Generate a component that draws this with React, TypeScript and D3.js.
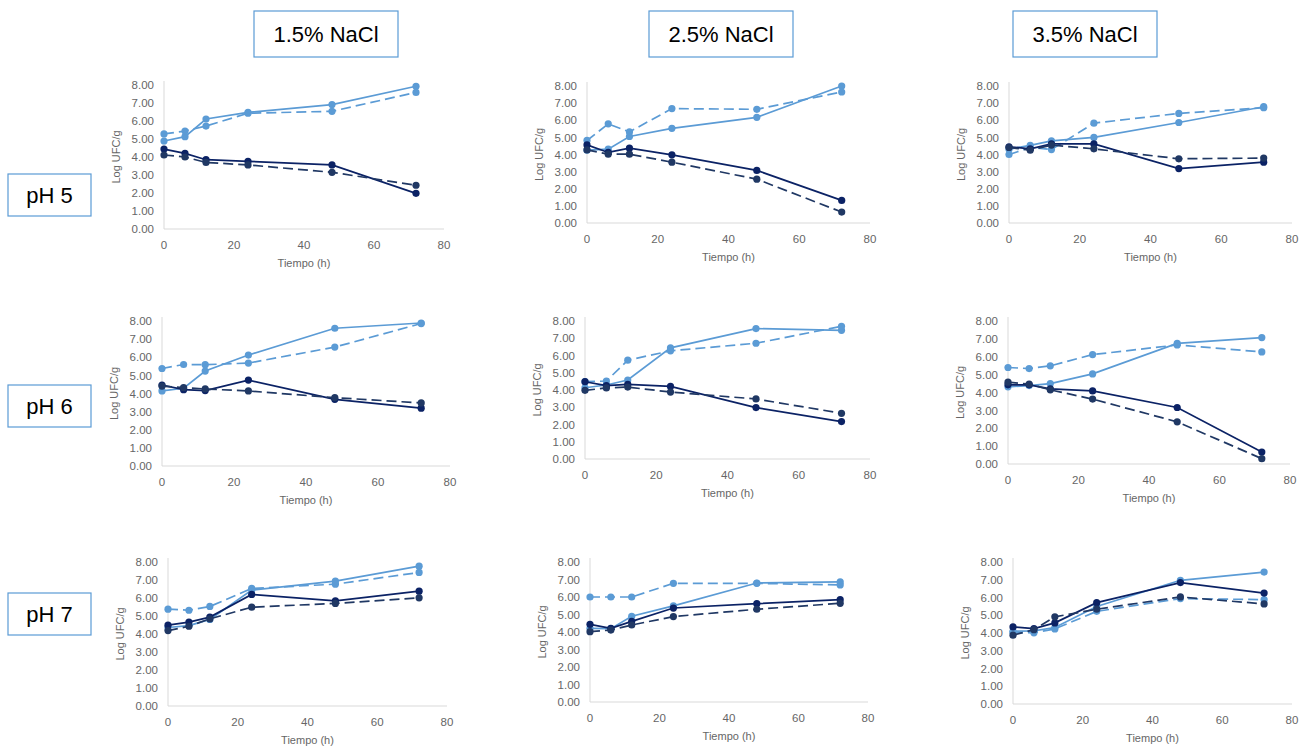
import React from 'react';
import * as d3 from 'd3';

// sampling times (h)
const times = [0, 6, 12, 24, 48, 72];
const nacl = ['1.5% NaCl', '2.5% NaCl', '3.5% NaCl'];
const phs = ['pH 5', 'pH 6', 'pH 7'];
const xTicks = [0, 20, 40, 60, 80];
const yTicks = [0, 1, 2, 3, 4, 5, 6, 7, 8];

// series per panel, row by row: light solid, light dashed, dark solid, dark dashed
const lightSolid = [
  [4.89, 5.13, 6.11, 6.48, 6.91, 7.93],
  [4.25, 4.31, 5.05, 5.53, 6.17, 8.0],
  [4.31, 4.53, 4.8, 5.0, 5.87, 6.79],
  [4.14, 4.29, 5.24, 6.12, 7.6, 7.89],
  [4.13, 4.29, 4.58, 6.44, 7.56, 7.46],
  [4.32, 4.39, 4.5, 5.04, 6.75, 7.07],
  [4.36, 4.47, 4.81, 6.44, 6.94, 7.77],
  [4.21, 4.19, 4.9, 5.49, 6.8, 6.86],
  [4.1, 4.12, 4.31, 5.49, 6.97, 7.43],
];
const lightDashed = [
  [5.28, 5.44, 5.72, 6.43, 6.54, 7.59],
  [4.82, 5.79, 5.32, 6.68, 6.64, 7.65],
  [4.0, 4.41, 4.29, 5.83, 6.4, 6.73],
  [5.38, 5.6, 5.59, 5.68, 6.56, 7.86],
  [4.48, 4.52, 5.73, 6.27, 6.71, 7.69],
  [5.4, 5.34, 5.49, 6.12, 6.66, 6.27],
  [5.38, 5.32, 5.53, 6.53, 6.77, 7.42],
  [6.0, 6.0, 6.0, 6.78, 6.78, 6.69],
  [4.03, 4.01, 4.23, 5.22, 5.94, 5.88],
];
const darkSolid = [
  [4.44, 4.2, 3.85, 3.76, 3.56, 1.98],
  [4.56, 4.12, 4.37, 3.98, 3.07, 1.32],
  [4.45, 4.33, 4.62, 4.62, 3.18, 3.55],
  [4.47, 4.21, 4.16, 4.74, 3.68, 3.19],
  [4.48, 4.25, 4.33, 4.21, 2.98, 2.17],
  [4.43, 4.43, 4.2, 4.09, 3.16, 0.67],
  [4.49, 4.66, 4.94, 6.2, 5.84, 6.38],
  [4.44, 4.21, 4.61, 5.37, 5.62, 5.85],
  [4.34, 4.25, 4.57, 5.71, 6.84, 6.25],
];
const darkDashed = [
  [4.11, 4.0, 3.7, 3.56, 3.15, 2.43],
  [4.27, 4.02, 4.02, 3.55, 2.56, 0.64],
  [4.41, 4.25, 4.55, 4.33, 3.75, 3.79],
  [4.41, 4.32, 4.25, 4.14, 3.77, 3.48],
  [3.98, 4.12, 4.17, 3.88, 3.48, 2.65],
  [4.58, 4.47, 4.15, 3.63, 2.36, 0.3],
  [4.19, 4.43, 4.84, 5.49, 5.7, 6.01],
  [4.02, 4.11, 4.4, 4.88, 5.3, 5.64],
  [3.88, 4.19, 4.91, 5.34, 6.03, 5.64],
];

// plot area of each panel in page pixels
const panels = [
  { l: 164, r: 444, t: 85, b: 229 },
  { l: 587, r: 870, t: 86, b: 223 },
  { l: 1009, r: 1292, t: 86, b: 223 },
  { l: 162, r: 450, t: 321, b: 466 },
  { l: 585, r: 870, t: 321, b: 459 },
  { l: 1008, r: 1290, t: 321, b: 464 },
  { l: 168, r: 447, t: 562, b: 706 },
  { l: 590, r: 868, t: 562, b: 702 },
  { l: 1013, r: 1292, t: 562, b: 704 },
];
const naclBoxes = [254, 649, 1013];
const phBoxesY = [174, 385, 593];

const LIGHT = '#5B9BD5';
const DARK = '#0B2265';
const DARK_DASH = '#203864';
const GRID = '#D9D9D9';
const TXT = '#666666';
const FONT = '"Liberation Sans", Arial, sans-serif';

const Panel = ({ i }: { i: number }) => {
  const p = panels[i];
  const x = d3.scaleLinear().domain([0, 80]).range([p.l, p.r]);
  const y = d3.scaleLinear().domain([0, 8]).range([p.b, p.t]);
  const line = d3.line<number>().x((_, k) => x(times[k])).y(d => y(d));
  const series = [
    { vals: lightSolid[i], color: LIGHT, dash: undefined },
    { vals: lightDashed[i], color: LIGHT, dash: '10,5' },
    { vals: darkSolid[i], color: DARK, dash: undefined },
    { vals: darkDashed[i], color: DARK_DASH, dash: '10,5' },
  ];
  return (
    <g>
      <line x1={p.l} x2={p.l} y1={p.t - 4} y2={p.b} stroke={GRID} strokeWidth={1} />
      <line x1={p.l} x2={p.r} y1={p.b} y2={p.b} stroke={GRID} strokeWidth={1} />
      {yTicks.map(t => (
        <text key={'y' + t} x={p.l - 10} y={y(t)} dy="0.36em" textAnchor="end" fontSize={11.5} fill={TXT} fontFamily={FONT}>
          {t.toFixed(2)}
        </text>
      ))}
      {xTicks.map(t => (
        <text key={'x' + t} x={x(t)} y={p.b + 20} textAnchor="middle" fontSize={11.5} fill={TXT} fontFamily={FONT}>
          {t}
        </text>
      ))}
      <text x={(p.l + p.r) / 2} y={p.b + 38} textAnchor="middle" fontSize={11} fill={TXT} fontFamily={FONT}>
        Tiempo (h)
      </text>
      <text transform={`translate(${p.l - 44},${(p.t + p.b) / 2}) rotate(-90)`} textAnchor="middle" fontSize={11} fill={TXT} fontFamily={FONT}>
        Log UFC/g
      </text>
      {series.map((s, k) => (
        <g key={k}>
          <path d={line(s.vals) || ''} fill="none" stroke={s.color} strokeWidth={1.7} strokeDasharray={s.dash} />
          {s.vals.map((v, j) => (
            <circle key={j} cx={x(times[j])} cy={y(v)} r={3.6} fill={s.color} />
          ))}
        </g>
      ))}
    </g>
  );
};

const App = () => (
  <svg width={1313} height={749} style={{ position: 'absolute', left: 0, top: 0, background: '#fff' }}>
    <rect width={1313} height={749} fill="#fff" />
    {nacl.map((n, c) => (
      <g key={n}>
        <rect x={naclBoxes[c]} y={11} width={144} height={46} fill="#fff" stroke={LIGHT} strokeWidth={1.2} />
        <text x={naclBoxes[c] + 72} y={42} textAnchor="middle" fontSize={22} fontFamily={FONT} fill="#000">{n}</text>
      </g>
    ))}
    {phs.map((ph, r) => (
      <g key={ph}>
        <rect x={8} y={phBoxesY[r]} width={83} height={42} fill="#fff" stroke={LIGHT} strokeWidth={1.2} />
        <text x={49.5} y={phBoxesY[r] + 29} textAnchor="middle" fontSize={22} fontFamily={FONT} fill="#000">{ph}</text>
      </g>
    ))}
    {panels.map((_, i) => <Panel key={i} i={i} />)}
  </svg>
);

export default App;
